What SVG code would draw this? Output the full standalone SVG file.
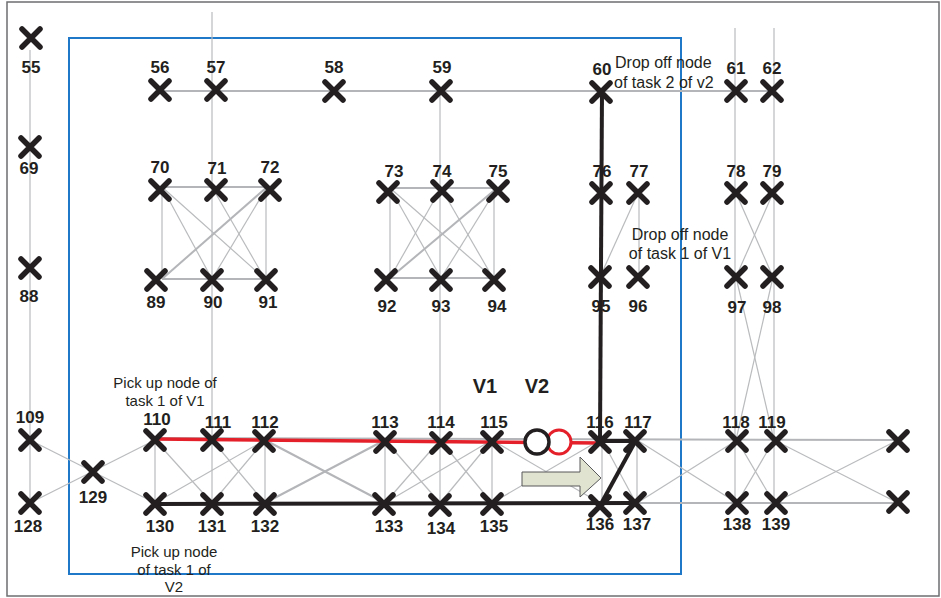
<svg xmlns="http://www.w3.org/2000/svg" xmlns:xlink="http://www.w3.org/1999/xlink" width="941" height="598" viewBox="0 0 941 598">
<style>
.t{stroke:#b9bbbd;stroke-width:1.2;fill:none}
.m{stroke:#b3b5b8;stroke-width:2;fill:none}
.k{stroke:#231f20;stroke-width:4;fill:none;stroke-linecap:butt}
.r{stroke:#e4202a;stroke-width:3.5;fill:none}
.lb{font-family:"Liberation Sans",Arial,sans-serif;font-weight:bold;font-size:17px;fill:#231f20;text-anchor:middle}
.an{font-family:"Liberation Sans",Arial,sans-serif;font-size:15px;fill:#231f20}
.an2{font-family:"Liberation Sans",Arial,sans-serif;font-size:16px;fill:#231f20}
.vl{font-family:"Liberation Sans",Arial,sans-serif;font-weight:bold;font-size:20px;fill:#231f20;text-anchor:middle}
</style>
<defs>
<path id="x" d="M-9,-9L9,9M9,-9L-9,9" stroke="#231f20" stroke-width="5.5" stroke-linecap="round" fill="none"/>
</defs>
<rect x="0" y="0" width="941" height="598" fill="#ffffff"/>
<rect id="frame" x="7" y="2" width="932" height="594" fill="none" stroke="#6d6e70" stroke-width="1.5"/>
<rect id="region" x="69" y="38" width="612" height="536" fill="none" stroke="#1f78c8" stroke-width="2"/>

<g id="connectors">
<line class="t" x1="30" y1="50" x2="30" y2="503"/>
<line class="t" x1="212" y1="12" x2="212" y2="504"/>
<line class="t" x1="440" y1="91" x2="440" y2="505"/>
<line class="t" x1="735" y1="28" x2="735" y2="503"/>
<line class="t" x1="774" y1="28" x2="774" y2="503"/>
<line class="m" x1="160" y1="91" x2="772" y2="91"/>
<line class="t" x1="639" y1="193" x2="639" y2="277"/>
<line class="t" x1="638" y1="193" x2="600" y2="277"/>
<line class="m" x1="162" y1="187" x2="267" y2="187"/>
<line class="m" x1="162" y1="279" x2="266" y2="279"/>
<line class="t" x1="162" y1="187" x2="162" y2="279"/>
<line class="t" x1="266" y1="187" x2="266" y2="279"/>
<line class="t" x1="162" y1="187" x2="212" y2="279"/>
<line class="t" x1="162" y1="187" x2="265" y2="279"/>
<line class="t" x1="212" y1="187" x2="265" y2="279"/>
<line class="t" x1="267" y1="187" x2="212" y2="279"/>
<line class="m" x1="267" y1="187" x2="162" y2="279"/>
<line class="m" x1="390" y1="188" x2="498" y2="188"/>
<line class="m" x1="390" y1="278" x2="494" y2="278"/>
<line class="t" x1="390" y1="188" x2="390" y2="278"/>
<line class="t" x1="494" y1="188" x2="494" y2="278"/>
<line class="t" x1="390" y1="188" x2="441" y2="278"/>
<line class="t" x1="390" y1="188" x2="493" y2="278"/>
<line class="t" x1="441" y1="188" x2="390" y2="278"/>
<line class="t" x1="441" y1="188" x2="493" y2="278"/>
<line class="t" x1="497" y1="188" x2="441" y2="278"/>
<line class="m" x1="497" y1="188" x2="390" y2="278"/>
<line class="t" x1="736" y1="193" x2="773" y2="277"/>
<line class="t" x1="773" y1="193" x2="736" y2="277"/>
<line class="t" x1="736" y1="277" x2="774" y2="440"/>
<line class="t" x1="773" y1="277" x2="736" y2="440"/>
<line class="t" x1="30" y1="440" x2="155" y2="503"/>
<line class="t" x1="30" y1="503" x2="155" y2="440"/>
<line class="t" x1="155" y1="440" x2="155" y2="503"/>
<line class="t" x1="155" y1="440" x2="212" y2="503"/>
<line class="t" x1="212" y1="440" x2="265" y2="503"/>
<line class="t" x1="265" y1="440" x2="155" y2="503"/>
<line class="t" x1="265" y1="440" x2="212" y2="503"/>
<line class="t" x1="265" y1="440" x2="265" y2="503"/>
<line class="m" x1="265" y1="440" x2="385" y2="503"/>
<line class="m" x1="265" y1="503" x2="385" y2="440"/>
<line class="t" x1="385" y1="440" x2="385" y2="503"/>
<line class="t" x1="492" y1="440" x2="492" y2="503"/>
<line class="t" x1="385" y1="440" x2="440" y2="503"/>
<line class="t" x1="440" y1="440" x2="385" y2="503"/>
<line class="t" x1="440" y1="440" x2="492" y2="503"/>
<line class="t" x1="492" y1="440" x2="385" y2="503"/>
<line class="t" x1="492" y1="440" x2="440" y2="503"/>
<line class="t" x1="492" y1="440" x2="600" y2="503"/>
<line class="t" x1="492" y1="503" x2="600" y2="440"/>
<line class="t" x1="602" y1="440" x2="602" y2="503"/>
<line class="t" x1="602" y1="440" x2="636" y2="503"/>
<line class="t" x1="637" y1="440" x2="637" y2="503"/>
<line class="t" x1="637" y1="440" x2="737" y2="503"/>
<line class="t" x1="637" y1="503" x2="737" y2="440"/>
<line class="t" x1="737" y1="440" x2="774" y2="503"/>
<line class="t" x1="774" y1="440" x2="737" y2="503"/>
<line class="t" x1="774" y1="440" x2="898" y2="503"/>
<line class="t" x1="774" y1="503" x2="898" y2="440"/>
<line class="m" x1="155" y1="438" x2="898" y2="440"/>
<line class="m" x1="635" y1="503" x2="898" y2="503"/>
<line class="k" x1="155" y1="504" x2="637" y2="503"/>
<line class="k" x1="602" y1="90" x2="600" y2="441"/>
<line class="k" x1="600" y1="441" x2="636" y2="441"/>
<line class="k" x1="602" y1="502" x2="635" y2="442"/>
<line class="r" x1="155" y1="439" x2="600" y2="443"/>
</g>

<g id="vehicles">
<circle cx="559" cy="442" r="12" fill="#ffffff" stroke="#e4202a" stroke-width="3"/>
<circle cx="537" cy="442" r="12" fill="#ffffff" stroke="#231f20" stroke-width="3.5"/>
<text class="vl" x="485" y="393">V1</text>
<text class="vl" x="537" y="393">V2</text>
<polygon id="arrow" points="522,472 580,472 580,457 601,478 580,497 580,486 522,486" fill="#dfe3cf" stroke="#58595b" stroke-width="1"/>
</g>

<g id="n55"><use xlink:href="#x" x="31" y="38"/><text class="lb" x="31" y="73">55</text></g>
<g id="n56"><use xlink:href="#x" x="160" y="90"/><text class="lb" x="160" y="73">56</text></g>
<g id="n57"><use xlink:href="#x" x="216" y="90"/><text class="lb" x="216" y="73">57</text></g>
<g id="n58"><use xlink:href="#x" x="334" y="91"/><text class="lb" x="334" y="73">58</text></g>
<g id="n59"><use xlink:href="#x" x="441" y="91"/><text class="lb" x="442" y="73">59</text></g>
<g id="n60"><use xlink:href="#x" x="601" y="92"/><text class="lb" x="602" y="75">60</text></g>
<g id="n61"><use xlink:href="#x" x="736" y="91"/><text class="lb" x="736" y="74">61</text></g>
<g id="n62"><use xlink:href="#x" x="772" y="91"/><text class="lb" x="772" y="74">62</text></g>
<g id="n69"><use xlink:href="#x" x="30" y="147"/><text class="lb" x="29" y="174">69</text></g>
<g id="n70"><use xlink:href="#x" x="160" y="190"/><text class="lb" x="160" y="173">70</text></g>
<g id="n71"><use xlink:href="#x" x="216" y="190"/><text class="lb" x="217" y="174">71</text></g>
<g id="n72"><use xlink:href="#x" x="270" y="190"/><text class="lb" x="270" y="173">72</text></g>
<g id="n73"><use xlink:href="#x" x="388" y="192"/><text class="lb" x="394" y="177">73</text></g>
<g id="n74"><use xlink:href="#x" x="442" y="191"/><text class="lb" x="442" y="177">74</text></g>
<g id="n75"><use xlink:href="#x" x="498" y="191"/><text class="lb" x="498" y="177">75</text></g>
<g id="n76"><use xlink:href="#x" x="601" y="193"/><text class="lb" x="602" y="177">76</text></g>
<g id="n77"><use xlink:href="#x" x="638" y="193"/><text class="lb" x="639" y="177">77</text></g>
<g id="n78"><use xlink:href="#x" x="736" y="193"/><text class="lb" x="736" y="177">78</text></g>
<g id="n79"><use xlink:href="#x" x="772" y="193"/><text class="lb" x="772" y="177">79</text></g>
<g id="n88"><use xlink:href="#x" x="30" y="268"/><text class="lb" x="29" y="302">88</text></g>
<g id="n89"><use xlink:href="#x" x="156" y="280"/><text class="lb" x="156" y="308">89</text></g>
<g id="n90"><use xlink:href="#x" x="212" y="280"/><text class="lb" x="213" y="308">90</text></g>
<g id="n91"><use xlink:href="#x" x="266" y="280"/><text class="lb" x="268" y="308">91</text></g>
<g id="n92"><use xlink:href="#x" x="386" y="280"/><text class="lb" x="387" y="312">92</text></g>
<g id="n93"><use xlink:href="#x" x="441" y="280"/><text class="lb" x="441" y="312">93</text></g>
<g id="n94"><use xlink:href="#x" x="494" y="280"/><text class="lb" x="497" y="312">94</text></g>
<g id="n95"><use xlink:href="#x" x="600" y="277"/><text class="lb" x="601" y="312">95</text></g>
<g id="n96"><use xlink:href="#x" x="638" y="277"/><text class="lb" x="638" y="312">96</text></g>
<g id="n97"><use xlink:href="#x" x="736" y="277"/><text class="lb" x="737" y="313">97</text></g>
<g id="n98"><use xlink:href="#x" x="772" y="277"/><text class="lb" x="772" y="313">98</text></g>
<g id="n109"><use xlink:href="#x" x="30" y="440"/><text class="lb" x="30" y="423">109</text></g>
<g id="n110"><use xlink:href="#x" x="155" y="440"/><text class="lb" x="157" y="425">110</text></g>
<g id="n111"><use xlink:href="#x" x="212" y="440"/><text class="lb" x="218" y="428">111</text></g>
<g id="n112"><use xlink:href="#x" x="264" y="441"/><text class="lb" x="265" y="428">112</text></g>
<g id="n113"><use xlink:href="#x" x="385" y="442"/><text class="lb" x="385" y="428">113</text></g>
<g id="n114"><use xlink:href="#x" x="441" y="443"/><text class="lb" x="441" y="428">114</text></g>
<g id="n115"><use xlink:href="#x" x="492" y="442"/><text class="lb" x="494" y="428">115</text></g>
<g id="n116"><use xlink:href="#x" x="600" y="442"/><text class="lb" x="600" y="428">116</text></g>
<g id="n117"><use xlink:href="#x" x="635" y="441"/><text class="lb" x="638" y="428">117</text></g>
<g id="n118"><use xlink:href="#x" x="737" y="441"/><text class="lb" x="736" y="428">118</text></g>
<g id="n119"><use xlink:href="#x" x="776" y="441"/><text class="lb" x="772" y="428">119</text></g>
<g id="nR1"><use xlink:href="#x" x="898" y="441"/></g>
<g id="n129"><use xlink:href="#x" x="93" y="472"/><text class="lb" x="93" y="503">129</text></g>
<g id="n128"><use xlink:href="#x" x="30" y="503"/><text class="lb" x="28" y="532">128</text></g>
<g id="n130"><use xlink:href="#x" x="155" y="504"/><text class="lb" x="160" y="532">130</text></g>
<g id="n131"><use xlink:href="#x" x="212" y="504"/><text class="lb" x="212" y="532">131</text></g>
<g id="n132"><use xlink:href="#x" x="265" y="504"/><text class="lb" x="265" y="532">132</text></g>
<g id="n133"><use xlink:href="#x" x="384" y="504"/><text class="lb" x="389" y="532">133</text></g>
<g id="n134"><use xlink:href="#x" x="440" y="505"/><text class="lb" x="441" y="534">134</text></g>
<g id="n135"><use xlink:href="#x" x="492" y="504"/><text class="lb" x="494" y="532">135</text></g>
<g id="n136"><use xlink:href="#x" x="600" y="506"/><text class="lb" x="600" y="530">136</text></g>
<g id="n137"><use xlink:href="#x" x="635" y="503"/><text class="lb" x="637" y="530">137</text></g>
<g id="n138"><use xlink:href="#x" x="737" y="503"/><text class="lb" x="737" y="530">138</text></g>
<g id="n139"><use xlink:href="#x" x="776" y="503"/><text class="lb" x="776" y="530">139</text></g>
<g id="nR2"><use xlink:href="#x" x="898" y="502"/></g>

<g id="annotations">
<text class="an2" x="615" y="68">Drop off node</text>
<text class="an2" x="614" y="88">of task 2 of v2</text>
<text class="an2" x="680" y="240" text-anchor="middle">Drop off node</text>
<text class="an2" x="680" y="259" text-anchor="middle">of task 1 of V1</text>
<text class="an" x="165" y="388" text-anchor="middle">Pick up node of</text>
<text class="an" x="165" y="406" text-anchor="middle">task 1 of V1</text>
<text class="an" x="174" y="557" text-anchor="middle">Pick up node</text>
<text class="an" x="174" y="575" text-anchor="middle">of task 1 of</text>
<text class="an" x="174" y="592" text-anchor="middle">V2</text>
</g>
</svg>
